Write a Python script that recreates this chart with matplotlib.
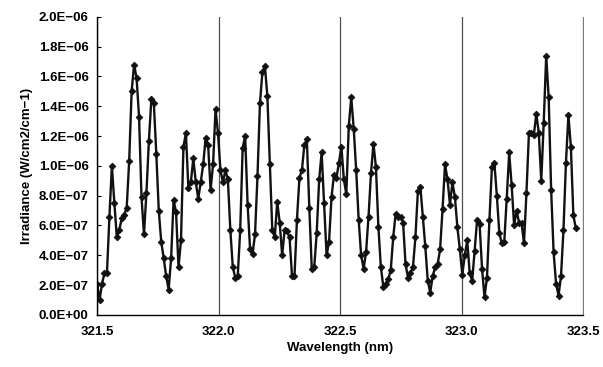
import numpy as np
import matplotlib
matplotlib.use('Agg')
import matplotlib.pyplot as plt
from matplotlib.ticker import FuncFormatter, MultipleLocator

# wavelength range of the scan (nm), uniformly sampled
WL_START = 321.50
WL_END = 323.47

# irradiance in units of 1E-06 W/cm2/cm-1
irr_a = [0.21, 0.10, 0.21, 0.28, 0.28, 0.66, 1.00, 0.75, 0.52, 0.57,
         0.65, 0.67, 0.72, 1.03, 1.50, 1.68, 1.59, 1.33, 0.79, 0.54,
         0.82, 1.17, 1.45, 1.42, 1.08, 0.70, 0.49, 0.38, 0.26, 0.17,
         0.38, 0.77, 0.69, 0.32, 0.50, 1.13, 1.22, 0.85, 0.89, 1.05,
         0.89, 0.78, 0.89, 1.01, 1.19, 1.14, 0.84, 1.01, 1.38, 1.22]
irr_b = [0.97, 0.89, 0.97, 0.91, 0.57, 0.32, 0.25, 0.26, 0.57, 1.12,
         1.20, 0.74, 0.44, 0.41, 0.54, 0.93, 1.42, 1.63, 1.67, 1.47,
         1.01, 0.57, 0.52, 0.76, 0.62, 0.40, 0.57, 0.56, 0.52, 0.26,
         0.26, 0.64, 0.92, 0.97, 1.14, 1.18, 0.72, 0.31, 0.32, 0.55,
         0.91, 1.09, 0.75, 0.40, 0.49, 0.79, 0.94, 0.92, 1.02, 1.13, 0.91]
irr_c = [0.81, 1.27, 1.46, 1.25, 0.97, 0.64, 0.40, 0.31, 0.42, 0.66,
         0.95, 1.15, 0.99, 0.59, 0.32, 0.19, 0.21, 0.24, 0.30, 0.52,
         0.68, 0.66, 0.66, 0.62, 0.34, 0.25, 0.28, 0.32, 0.52, 0.83,
         0.86, 0.66, 0.46, 0.23, 0.15, 0.26, 0.32, 0.34, 0.44, 0.71,
         1.01, 0.91, 0.74, 0.89, 0.79, 0.59, 0.44, 0.27, 0.40, 0.50]
irr_d = [0.28, 0.23, 0.43, 0.64, 0.61, 0.31, 0.12, 0.25, 0.64, 0.99,
         1.02, 0.80, 0.55, 0.48, 0.49, 0.78, 1.09, 0.87, 0.60, 0.70,
         0.62, 0.62, 0.48, 0.82, 1.22, 1.22, 1.21, 1.35, 1.22, 0.90,
         1.29, 1.74, 1.46, 0.84, 0.42, 0.21, 0.13, 0.26, 0.57, 1.02,
         1.34, 1.13, 0.67, 0.58]

irradiance = np.array(irr_a + irr_b + irr_c + irr_d) * 1e-6
wavelength = np.linspace(WL_START, WL_END, len(irradiance))

plt.rcParams['font.family'] = ['Liberation Sans', 'DejaVu Sans']

fig = plt.figure(figsize=(6.03, 3.67), dpi=100)
ax = fig.add_axes([0.161, 0.142, 0.806, 0.812])

ax.plot(wavelength, irradiance, color='#111111', lw=1.7,
        marker='D', markersize=3.4, markeredgewidth=0.6)

ax.set_xlim(321.5, 323.5)
ax.set_ylim(0, 2.0e-6)
ax.xaxis.set_major_locator(MultipleLocator(0.5))
ax.yaxis.set_major_locator(MultipleLocator(0.2e-6))
ax.xaxis.set_major_formatter(FuncFormatter(lambda v, _: f'{v:.1f}'))
ax.yaxis.set_major_formatter(FuncFormatter(lambda v, _: f'{v:.1E}'.replace('-', '\u2212')))

ax.grid(axis='x', color='#505050', lw=0.9)
ax.grid(axis='y', visible=False)

ax.spines['top'].set_visible(False)
ax.spines['right'].set_color('#777777')
ax.spines['right'].set_linestyle((0, (2, 1)))
ax.spines['right'].set_linewidth(0.7)
ax.spines['left'].set_linewidth(1.0)
ax.spines['bottom'].set_linewidth(1.0)

ax.tick_params(axis='y', direction='in', length=3, width=0.8, pad=6,
               labelsize=9.5)
ax.tick_params(axis='x', length=0, pad=8, labelsize=9.5)
for lbl in ax.get_xticklabels() + ax.get_yticklabels():
    lbl.set_fontweight('bold')

ax.set_xlabel('Wavelength (nm)', fontsize=9.5, fontweight='bold', labelpad=3)
ax.set_ylabel('Irradiance (W/cm2/cm\u22121)', fontsize=9.5, fontweight='bold',
              labelpad=4)

fig.savefig('out.png', dpi=100)
